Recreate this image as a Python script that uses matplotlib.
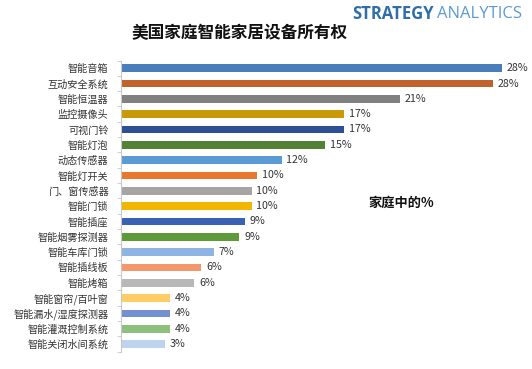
import numpy as np
import matplotlib.pyplot as plt

plt.rcParams['font.family'] = ['Noto Sans CJK SC', 'DejaVu Sans']

# data
categories = ['智能音箱', '互动安全系统', '智能恒温器', '监控摄像头', '可视门铃', '智能灯泡',
              '动态传感器', '智能灯开关', '门、窗传感器', '智能门锁', '智能插座', '智能烟雾探测器',
              '智能车库门锁', '智能插线板', '智能烤箱', '智能窗帘/百叶窗', '智能漏水/湿度探测器',
              '智能灌溉控制系统', '智能关闭水间系统']
values = [28.0, 27.3, 20.5, 16.4, 16.4, 15.0, 11.8, 10.0, 9.6, 9.6, 9.1, 8.7,
          6.8, 5.9, 5.4, 3.6, 3.6, 3.6, 3.2]
labels = ['28%', '28%', '21%', '17%', '17%', '15%', '12%', '10%', '10%', '10%', '9%', '9%',
          '7%', '6%', '6%', '4%', '4%', '4%', '3%']
colors = ['#4A7EBB', '#C0622B', '#808080', '#C99A06', '#2E4F95', '#548235', '#5B9BD5',
          '#E8782F', '#A5A5A5', '#F2B600', '#3A62B3', '#5E9A3A', '#8EB4E3', '#F4976C',
          '#B8B8B8', '#FFCC66', '#7390D0', '#8DC07A', '#BDD3EE']

fig = plt.figure(figsize=(5.32, 3.69), dpi=100)
ax = fig.add_axes([0.2274, 0.047, 0.7726, 0.789])

y = np.arange(len(categories))
ax.barh(y, values, height=0.5, color=colors)
for yi, v, lab in zip(y, values, labels):
    ax.text(v + 0.35, yi, lab, va='center', ha='left', fontsize=7.7, color='#333333')

ax.set_ylim(len(categories) - 0.5, -0.5)
ax.set_xlim(0, 30.2)
ax.set_yticks(y)
ax.set_yticklabels(categories, fontsize=7.3, color='#333333')
ax.tick_params(axis='y', length=0, pad=9)
ax.set_yticks(np.arange(-0.5, len(categories), 1), minor=True)
ax.tick_params(axis='y', which='minor', length=3, color='#c8c8c8')
ax.set_xticks([])
for s in ['top', 'right', 'bottom']:
    ax.spines[s].set_visible(False)
ax.spines['left'].set_color('#c8c8c8')
ax.spines['left'].set_linewidth(0.8)

fig.text(0.45, 0.91, '美国家庭智能家居设备所有权', ha='center', va='center',
         fontsize=12, fontweight='bold', color='#111111')
fig.text(0.663, 0.963, 'STRATEGY', ha='left', va='center', fontsize=12,
         fontweight='bold', color='#2F6EA8', family='Open Sans')
fig.text(0.821, 0.963, 'ANALYTICS', ha='left', va='center', fontsize=12,
         color='#5B9BD5', family='Open Sans')
fig.text(0.692, 0.45, '家庭中的%', ha='left', va='center', fontsize=9.5,
         fontweight='bold', color='#111111')

fig.savefig('out.png', dpi=100)
